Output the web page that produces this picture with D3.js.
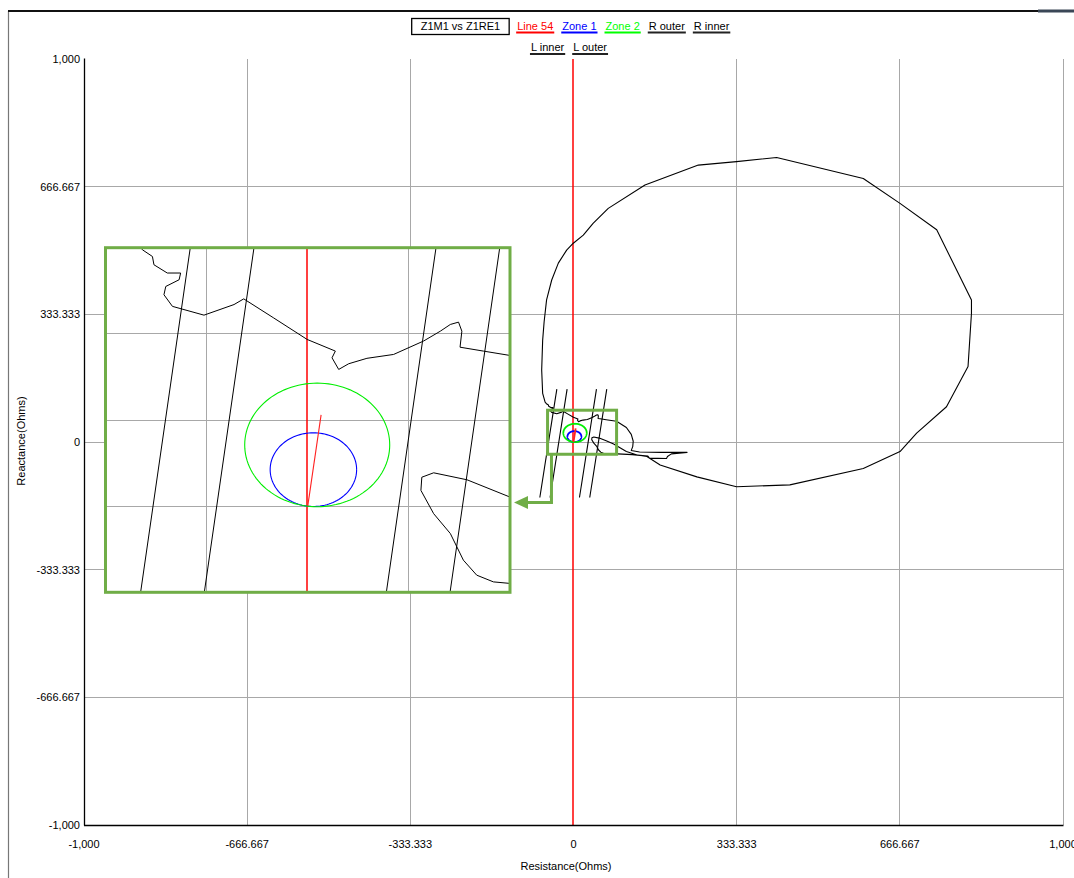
<!DOCTYPE html>
<html><head><meta charset="utf-8">
<script src="https://cdn.jsdelivr.net/npm/d3@7"></script>
<style>
html,body{margin:0;padding:0;background:#fff;}
svg{display:block;font-family:"Liberation Sans",Arial,sans-serif;}
</style></head><body>
<svg id="chart" width="1074" height="878"></svg>
<script>
// ---- axis ticks (Ohms) ----
const tickValues = [-1000, -666.667, -333.333, 0, 333.333, 666.667, 1000];
const tickLabels = ["-1,000", "-666.667", "-333.333", "0", "333.333", "666.667", "1,000"];
const insetRTicks = [-33.333, 0, 33.333];
const insetXTicks = [0, 33.333, 66.667];

// ---- Z1M1 vs Z1RE1 : apparent impedance trajectory (R, X in Ohms) ----
const trajR = [150, 177, 252, 333, 442, 592, 667, 701, 762, 806, 813, 813, 742, 667, 592, 415, 333, 255, 146, 71, 40, 20, -0.4, -14, -31, -44.5, -55, -60, -63, -65, -63, -58,
  -54.5, -51.2, -50.7, -46.3, -41.9, -42.4, -46.8, -47.4, -44.6, -34.2, -24.3, -21.1, -11.2, -0.2, 9.1, 8, 10.2, 13.5, 19.5, 28.3, 38.2, 43.7, 47, 49.7, 50.8, 50.2, 57.9, 66.7,
  88, 108, 118, 122, 121, 118, 135, 180, 232, 200, 192, 190, 155, 152, 120, 90,
  66.7, 61.2, 55.7, 51.3, 47, 41.5, 37.3, 37.6, 41.5, 52.5, 66.7, 82, 95, 108, 130, 150];
const trajX = [-38, -60, -91, -117, -112, -69, -25, 23, 92, 197, 336, 371, 554, 623, 688, 743, 732, 723, 671, 610, 571, 540, 519, 501, 467, 423, 371, 314, 266, 188, 127, 104,
  99.2, 96.6, 93.4, 90.2, 90.2, 87.6, 85, 81.8, 77.3, 73.9, 78, 80.2, 72.8, 64.5, 60, 57.4, 52.9, 55.1, 57.2, 58.7, 63.9, 67.7, 70.3, 71.2, 67.7, 61.5, 60, 58.3,
  54, 38, 20, 2, -12, -22, -26, -27, -27, -31, -38, -43, -42, -37, -33, -31,
  -29.9, -29.3, -26.7, -20.9, -10.6, -2.9, 6.1, 11.2, 12.9, 10.2, 3.5, -5, -15, -25, -34, -38];

// ---- mho zones: reach (Ohms) and characteristic angle (deg) ----
const zoneNames = ["Zone 1", "Zone 2"];
const zoneReach = [28.5, 47.8];
const zoneAngle = [82.5, 82.5];
const zoneColors = ["#0000ff", "#00ee00"];

// ---- Line 54 impedance ----
const lineR = [0, 4.4];
const lineX = [0, 35.3];

// ---- blinders: resistive intercept at X = 0, angle, reactive extent ----
const blinderNames = ["R outer", "R inner", "L inner", "L outer"];
const blinderR0 = [51, 30, -30, -51];
const blinderAngle = 83;
const blinderXSpan = [-145, 138];

// ---- legend ----
const legendRow1 = ["Z1M1 vs Z1RE1", "Line 54", "Zone 1", "Zone 2", "R outer", "R inner"];
const legendRow2 = ["L inner", "L outer"];
const legendColors = {"Z1M1 vs Z1RE1": "#000", "Line 54": "#ff0000", "Zone 1": "#0000ff", "Zone 2": "#00ff00",
  "R outer": "#000", "R inner": "#000", "L inner": "#000", "L outer": "#000"};

// ---- zoom window on the main plot (Ohms) ----
const zoomWin = {r0: -53, r1: 88, x0: -32, x1: 83};

const svg = d3.select("#chart");
const W = 1074, H = 878;
svg.append("rect").attr("width", W).attr("height", H).attr("fill", "#fff");

// outer frame
svg.append("line").attr("x1", 8.5).attr("x2", 8.5).attr("y1", 11).attr("y2", H).attr("stroke", "#777").attr("stroke-width", 1.2);
svg.append("line").attr("x1", 8).attr("x2", W).attr("y1", 11).attr("y2", 11).attr("stroke", "#111").attr("stroke-width", 2);
svg.append("line").attr("x1", 1038).attr("x2", W).attr("y1", 11).attr("y2", 11).attr("stroke", "#3a4656").attr("stroke-width", 3);

const x = d3.scaleLinear().domain([-1000, 1000]).range([84, 1063]);
const y = d3.scaleLinear().domain([-1000, 1000]).range([825, 59]);
const crisp = v => Math.floor(v) + 0.5;

const pts = trajR.map((r, i) => [r, trajX[i]]);

function mhoPoints(reach, angDeg) {
  const a = angDeg * Math.PI / 180, rad = reach / 2;
  const cx = rad * Math.cos(a), cy = rad * Math.sin(a);
  return d3.range(0, 361, 3).map(t => [cx + rad * Math.cos(t * Math.PI / 180), cy + rad * Math.sin(t * Math.PI / 180)]);
}
function blinderPoints(r0) {
  const k = 1 / Math.tan(blinderAngle * Math.PI / 180);
  return blinderXSpan.map(xv => [r0 + xv * k, xv]);
}

// draws grid + all series into a group with given scales
function drawPlot(g, sx, sy, rTicks, xTicks, opt) {
  const grid = g.append("g");
  const [ry0, ry1] = sy.range(), [rx0, rx1] = sx.range();
  rTicks.filter(v => v !== 0).forEach(v => {
    grid.append("line").attr("x1", crisp(sx(v))).attr("x2", crisp(sx(v)))
      .attr("y1", ry1).attr("y2", ry0)
      .style("stroke", "#a8a8a8").style("stroke-width", "1px");
  });
  xTicks.forEach(v => {
    grid.append("line").attr("y1", crisp(sy(v))).attr("y2", crisp(sy(v)))
      .attr("x1", rx0).attr("x2", rx1)
      .style("stroke", "#a8a8a8").style("stroke-width", "1px");
  });
  // the R = 0 axis is drawn in red
  grid.append("line").attr("x1", Math.floor(sx(0))).attr("x2", Math.floor(sx(0)))
    .attr("y1", ry1).attr("y2", ry0)
    .style("stroke", "#ff0000").style("stroke-width", "1.5px");

  const line = d3.line().x(d => sx(d[0])).y(d => sy(d[1]));
  const marks = g.append("g").attr("clip-path", opt.clip);
  blinderR0.forEach(r0 => {
    marks.append("path").attr("d", line(blinderPoints(r0))).attr("fill", "none")
      .attr("stroke", "#000").attr("stroke-width", opt.thin);
  });
  marks.append("path").attr("d", line(pts)).attr("fill", "none")
    .attr("stroke", "#000").attr("stroke-width", opt.thin).attr("stroke-linejoin", "round");
  zoneReach.forEach((reach, i) => {
    marks.append("path").attr("d", line(mhoPoints(reach, zoneAngle[i]))).attr("fill", "none")
      .attr("stroke", zoneColors[i]).attr("stroke-width", opt.zone);
  });
  marks.append("path").attr("d", line(lineR.map((r, i) => [r, lineX[i]]))).attr("fill", "none")
    .attr("stroke", "#ff2020").attr("stroke-width", opt.zone);
}

const defs = svg.append("defs");
defs.append("clipPath").attr("id", "clipMain").append("rect")
  .attr("x", 84).attr("y", 59).attr("width", 979).attr("height", 766);

const main = svg.append("g");
drawPlot(main, x, y, tickValues.slice(1), tickValues.slice(0, -1), {clip: "url(#clipMain)", thin: 1.1, zone: 1.8});

// axis lines
main.append("line").attr("x1", 84.5).attr("x2", 84.5).attr("y1", 58.5).attr("y2", 825.5).attr("stroke", "#000").attr("stroke-width", 1.3);
main.append("line").attr("x1", 84).attr("x2", 1063.5).attr("y1", 825.5).attr("y2", 825.5).attr("stroke", "#000").attr("stroke-width", 1.3);

// tick labels
const fs = 11;
tickValues.forEach((v, i) => {
  svg.append("text").attr("x", 80).attr("y", y(v)).attr("dy", "0.35em").attr("text-anchor", "end")
    .attr("font-size", fs).attr("fill", "#000").text(tickLabels[i]);
  svg.append("text").attr("x", x(v)).attr("y", 844).attr("dy", "0.35em").attr("text-anchor", "middle")
    .attr("font-size", fs).attr("fill", "#000").text(tickLabels[i]);
});
svg.append("text").attr("x", 566).attr("y", 866).attr("dy", "0.35em").attr("text-anchor", "middle")
  .attr("font-size", fs).text("Resistance(Ohms)");
svg.append("text").attr("transform", "translate(21,441) rotate(-90)").attr("dy", "0.35em").attr("text-anchor", "middle")
  .attr("font-size", fs).text("Reactance(Ohms)");

// legend
function legendRow(names, cy, uy, centerX) {
  const g = svg.append("g");
  const items = names.map(n => {
    const t = g.append("text").attr("y", cy).attr("dy", "0.35em").attr("font-size", fs)
      .attr("fill", legendColors[n]).text(n);
    return {n, t, w: t.node().getComputedTextLength()};
  });
  const pad = n => n === "Z1M1 vs Z1RE1" ? 9 : 1;
  const gap = 7;
  const total = d3.sum(items, d => d.w + 2 * pad(d.n)) + gap * (items.length - 1);
  let cx = centerX - total / 2;
  items.forEach(d => {
    const p = pad(d.n);
    d.t.attr("x", cx + p);
    if (d.n === "Z1M1 vs Z1RE1") {
      g.append("rect").attr("x", cx).attr("y", cy - 7.5).attr("width", d.w + 2 * p).attr("height", 16)
        .attr("fill", "none").attr("stroke", "#000").attr("stroke-width", 1.3);
    } else {
      g.append("line").attr("x1", cx).attr("x2", cx + d.w + 2 * p).attr("y1", uy).attr("y2", uy)
        .attr("stroke", d.n === "Line 54" || d.n.startsWith("Zone") ? legendColors[d.n] : "#222").attr("stroke-width", 2);
    }
    cx += d.w + 2 * p + gap;
  });
}
legendRow(legendRow1, 26, 32.5, 571);
legendRow(legendRow2, 47, 54, 569);

// zoom window on the main plot and the pointer to the enlarged view
const green = "#70ad47";
svg.append("rect").attr("x", x(zoomWin.r0)).attr("y", y(zoomWin.x1))
  .attr("width", x(zoomWin.r1) - x(zoomWin.r0)).attr("height", y(zoomWin.x0) - y(zoomWin.x1))
  .attr("fill", "none").attr("stroke", green).attr("stroke-width", 3);
const ax = x(-45), ay0 = y(zoomWin.x0), ay1 = 502.5;
svg.append("path").attr("d", `M${ax},${ay0}V${ay1}H${526}`).attr("fill", "none")
  .attr("stroke", green).attr("stroke-width", 3);
svg.append("path").attr("d", `M514,${ay1}L528,${ay1 - 6.5}L528,${ay1 + 6.5}Z`).attr("fill", green);

// enlarged view around the origin
const ix = d3.scaleLinear().domain([-66.667, 66.667]).range([105.5, 510]);
const iy = d3.scaleLinear().domain([-33.333, 100]).range([592.3, 247.7]);
defs.append("clipPath").attr("id", "clipInset").append("rect")
  .attr("x", 105.5).attr("y", 247.7).attr("width", 404.5).attr("height", 344.6);
const inset = svg.append("g");
inset.append("rect").attr("x", 105.5).attr("y", 247.7).attr("width", 404.5).attr("height", 344.6).attr("fill", "#fff");
drawPlot(inset, ix, iy, insetRTicks, insetXTicks, {clip: "url(#clipInset)", thin: 1, zone: 1.1});
inset.append("rect").attr("x", 105.5).attr("y", 247.7).attr("width", 404.5).attr("height", 344.6)
  .attr("fill", "none").attr("stroke", green).attr("stroke-width", 3);
</script>
</body></html>
